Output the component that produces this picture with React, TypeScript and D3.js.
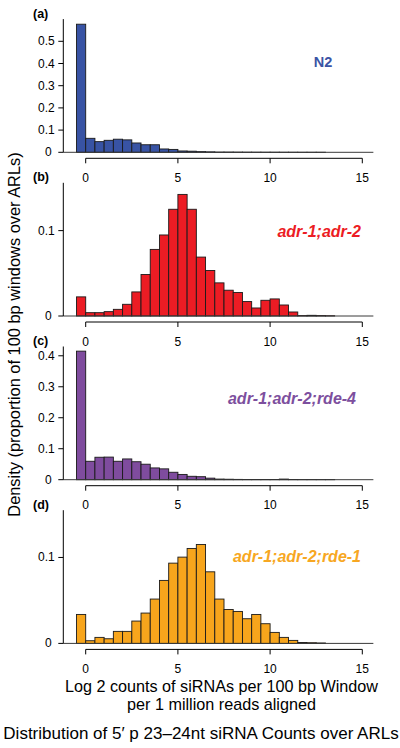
import React from "react";
import * as d3 from "d3";

// ---------- data ----------
const binStart = -0.5;
const binWidth = 0.5;

const n2Density = [0.577, 0.063, 0.048, 0.054, 0.059, 0.056, 0.042, 0.034, 0.034, 0.015, 0.013, 0.006, 0.005, 0.003, 0.002, 0.001, 0.001, 0.0008, 0.0006, 0.0005, 0.0004, 0.0004, 0.0003, 0.0003, 0.0002, 0.0002, 0.0002];
const adrDensity = [0.0224, 0.0039, 0.0039, 0.0051, 0.0078, 0.0137, 0.0282, 0.0486, 0.078, 0.0949, 0.125, 0.1424, 0.125, 0.069, 0.0533, 0.0388, 0.0302, 0.0275, 0.0169, 0.0094, 0.0184, 0.02, 0.0129, 0.0047, 0.0005, 0.0008, 0.0005, 0.0003];
const rde4Density = [0.415, 0.0595, 0.0725, 0.073, 0.0595, 0.067, 0.058, 0.05, 0.038, 0.035, 0.024, 0.017, 0.011, 0.0097, 0.005, 0.002, 0.0015, 0.001, 0.0008, 0.0006, 0.0005, 0.0005, 0.002, 0.0005, 0.0004, 0.0004, 0.0003, 0.0003];
const rde1Density = [0.0337, 0.0031, 0.007, 0.0054, 0.014, 0.014, 0.026, 0.0353, 0.0516, 0.0733, 0.0934, 0.1004, 0.1105, 0.1151, 0.0833, 0.0516, 0.0395, 0.0372, 0.0287, 0.0337, 0.0229, 0.0128, 0.007, 0.0035, 0.001, 0.0008, 0.0005];

const panelLetters = ["(a)", "(b)", "(c)", "(d)"];
const strainNames = ["N2", "adr-1;adr-2", "adr-1;adr-2;rde-4", "adr-1;adr-2;rde-1"];
const yMaxValues = [0.6, 0.156, 0.43, 0.155];
const yTickValues = [
  [0, 0.1, 0.2, 0.3, 0.4, 0.5],
  [0, 0.1],
  [0, 0.1, 0.2, 0.3, 0.4],
  [0, 0.1],
];
const xTickValues = [0, 5, 10, 15];

const xTitleLines = ["Log 2 counts of siRNAs per 100 bp Window", "per 1 million reads aligned"];
const yTitle = "Density (proportion of 100 bp windows over ARLs)";
const figTitle = "Distribution of 5\u2032 p 23\u201324nt siRNA Counts over ARLs";

// ---------- styles / layout ----------
const fills = ["#3853a4", "#ec1c24", "#7f4c9e", "#f7a51c"];
const labelColors = ["#3b54a5", "#ec1c24", "#7d4f9e", "#f7a722"];
const FONT = "'Liberation Sans', Arial, Helvetica, sans-serif";

const W = 400;
const H = 748;
const axisX = 63.3;
const firstZeroY = 152.3;
const panelStep = 163.7;
const plotH = 133.2;
const labelLayout = [
  { x: 323, dy: 47.5, anchor: "middle", size: 14.5, italic: false },
  { x: 361, dy: 54, anchor: "end", size: 16, italic: true },
  { x: 356, dy: 57.5, anchor: "end", size: 16, italic: true },
  { x: 361, dy: 52, anchor: "end", size: 16, italic: true },
];

const datasets = [n2Density, adrDensity, rde4Density, rde1Density];

const xScale = d3.scaleLinear().domain([0, 15]).range([85.7, 362.3]);
const baselineEndX = xScale(15.6);

function Panel({ i }: { i: number }) {
  const values = datasets[i];
  const zeroY = firstZeroY + panelStep * i;
  const topY = zeroY - plotH;
  const y = d3.scaleLinear().domain([0, yMaxValues[i]]).range([zeroY, topY]);
  const axisY = zeroY + 6;
  const lab = labelLayout[i];
  return (
    <g>
      {/* panel letter */}
      <text x={33} y={topY - 1.5} fontFamily={FONT} fontWeight="bold" fontSize={12.5} fill="#000">
        {panelLetters[i]}
      </text>
      {/* bars */}
      {values.map((v, k) => {
        const x0 = binStart + k * binWidth;
        const x1 = x0 + binWidth;
        const px0 = xScale(x0);
        const px1 = xScale(x1);
        const py = y(v);
        return (
          <rect
            key={k}
            x={px0}
            y={py}
            width={px1 - px0}
            height={Math.max(zeroY - py, 0)}
            fill={fills[i]}
            stroke="#1a1a1a"
            strokeWidth={0.9}
          />
        );
      })}
      {/* zero baseline */}
      <line x1={axisX} x2={baselineEndX} y1={zeroY} y2={zeroY} stroke="#3a3a3a" strokeWidth={1} />
      {/* y axis */}
      <line x1={axisX} x2={axisX} y1={topY} y2={zeroY} stroke="#000" strokeWidth={1} />
      {yTickValues[i].map((t) => (
        <g key={t}>
          <line x1={axisX - 5} x2={axisX} y1={y(t)} y2={y(t)} stroke="#000" strokeWidth={1} />
          <text
            x={t === 0 ? axisX - 11.5 : axisX - 8.5}
            y={y(t) + 4}
            textAnchor="end"
            fontFamily={FONT}
            fontSize={12}
            fill="#000"
          >
            {t === 0 ? "0" : d3.format(".1f")(t)}
          </text>
        </g>
      ))}
      {/* x axis */}
      <line x1={xScale(0)} x2={xScale(15)} y1={axisY} y2={axisY} stroke="#000" strokeWidth={1} />
      {xTickValues.map((t) => (
        <g key={t}>
          <line x1={xScale(t)} x2={xScale(t)} y1={axisY} y2={axisY + 5} stroke="#000" strokeWidth={1} />
          <text
            x={xScale(t)}
            y={zeroY + 29.5}
            textAnchor="middle"
            fontFamily={FONT}
            fontSize={12}
            fill="#000"
          >
            {t}
          </text>
        </g>
      ))}
      {/* strain label */}
      <text
        x={lab.x}
        y={topY + lab.dy}
        textAnchor={lab.anchor as any}
        fontFamily={FONT}
        fontWeight="bold"
        fontStyle={lab.italic ? "italic" : "normal"}
        fontSize={lab.size}
        fill={labelColors[i]}
      >
        {strainNames[i]}
      </text>
    </g>
  );
}

export default function App() {
  const yTitleCenter = (152 + 517) / 2;
  return (
    <svg
      width={W}
      height={H}
      viewBox={`0 0 ${W} ${H}`}
      style={{ position: "absolute", left: 0, top: 0, background: "#fff" }}
    >
      <rect x={0} y={0} width={W} height={H} fill="#fff" />
      {datasets.map((_, i) => (
        <Panel key={i} i={i} />
      ))}
      <text
        transform={`translate(20,${yTitleCenter}) rotate(-90)`}
        textAnchor="middle"
        fontFamily={FONT}
        fontSize={16.4}
        fill="#000"
      >
        {yTitle}
      </text>
      {xTitleLines.map((s, k) => (
        <text
          key={k}
          x={221.5}
          y={691.5 + k * 18.8}
          textAnchor="middle"
          fontFamily={FONT}
          fontSize={16.2}
          fill="#000"
        >
          {s}
        </text>
      ))}
      <text x={201} y={738.5} textAnchor="middle" fontFamily={FONT} fontSize={17} fill="#000">
        {figTitle}
      </text>
    </svg>
  );
}
